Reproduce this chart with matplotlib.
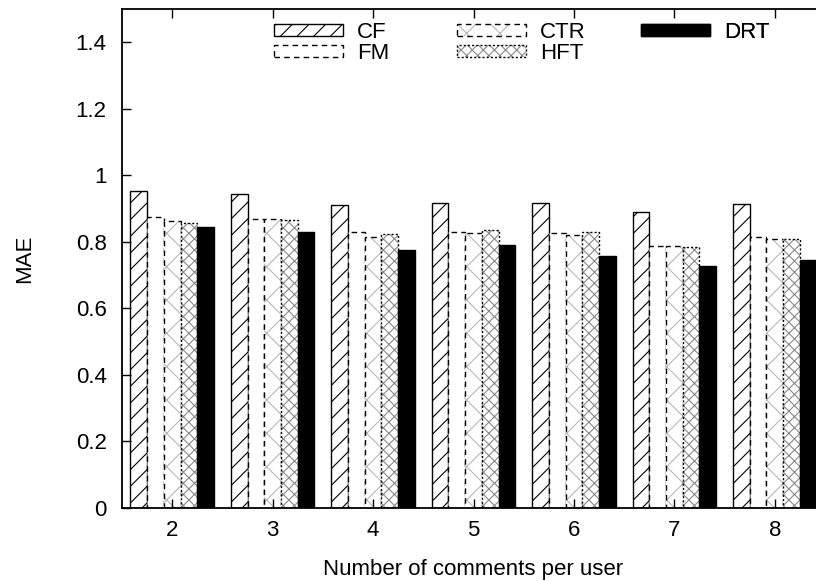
import matplotlib
matplotlib.use('Agg')
import matplotlib.pyplot as plt
import numpy as np
from matplotlib.patches import Patch

# MAE by number of comments per user
comments = [2, 3, 4, 5, 6, 7, 8]
cf = [0.952, 0.943, 0.912, 0.917, 0.917, 0.890, 0.914]
fm = [0.875, 0.870, 0.830, 0.831, 0.827, 0.789, 0.816]
ctr = [0.862, 0.869, 0.815, 0.828, 0.820, 0.788, 0.809]
hft = [0.856, 0.866, 0.825, 0.837, 0.831, 0.785, 0.809]
drt = [0.844, 0.830, 0.775, 0.790, 0.759, 0.726, 0.745]
methods = ['CF', 'FM', 'CTR', 'HFT', 'DRT']
yticks = [0, 0.2, 0.4, 0.6, 0.8, 1.0, 1.2, 1.4]
ytick_labels = ['0', '0.2', '0.4', '0.6', '0.8', '1', '1.2', '1.4']

plt.rcParams['font.family'] = ['Liberation Sans', 'DejaVu Sans']
plt.rcParams['font.size'] = 16
plt.rcParams['hatch.linewidth'] = 0.8

# face, hatch, hatch colour, edge linestyle
styles = {
    'CF': ('white', '//', 'black', '-'),
    'FM': ('white', None, None, (0, (4, 3))),
    'CTR': ('white', 'x', '#b8b8b8', (0, (4, 3))),
    'HFT': ('white', 'xxx', '#8a8a8a', (0, (1.5, 1.5))),
    'DRT': ('black', None, None, '-'),
}

fig = plt.figure(figsize=(8.16, 5.81), dpi=100)
ax = fig.add_axes([122 / 816, 73 / 581, 703 / 816, 499 / 581])

x = np.array(comments)
w = 1 / 6
handles = {}
for i, (name, vals) in enumerate(zip(methods, [cf, fm, ctr, hft, drt])):
    face, hatch, hcol, ls = styles[name]
    pos = x + (i - 2) * w
    parts = []
    if hatch:
        ax.bar(pos, vals, w, color='white', edgecolor=hcol, hatch=hatch, linewidth=0)
        parts.append(Patch(facecolor='white', edgecolor=hcol, hatch=hatch, linewidth=0))
    ax.bar(pos, vals, w, facecolor=face if not hatch else 'none',
           edgecolor='black', linewidth=1.0, linestyle=ls)
    parts.append(Patch(facecolor=face if not hatch else 'none', edgecolor='black',
                       linewidth=1.0, linestyle=ls))
    handles[name] = tuple(parts)

ax.set_xlim(1.5, 8.5)
ax.set_ylim(0, 1.5)
ax.set_xticks(comments)
ax.set_yticks(yticks)
ax.set_yticklabels(ytick_labels)
ax.tick_params(direction='in', length=6.5, width=1, top=True, right=True)
ax.tick_params(axis='x', pad=8.5)
ax.tick_params(axis='y', pad=11)
for s in ax.spines.values():
    s.set_linewidth(1.3)

ax.set_xlabel('Number of comments per user', va='center')
ax.xaxis.set_label_coords(0.5, (508 - 570) / 499)
ax.set_ylabel('MAE', va='center')
ax.yaxis.set_label_coords((25 - 122) / 703, 0.5)

# three legend columns, placed like the gnuplot key
columns = [(['CF', 'FM'], 274), (['CTR', 'HFT'], 457), (['DRT'], 641)]
for names, xpx in columns:
    leg = ax.legend([handles[n] for n in names], names, loc='upper left',
                    bbox_to_anchor=(xpx / 816, 559 / 581), bbox_transform=fig.transFigure,
                    frameon=False, borderpad=0, borderaxespad=0,
                    handlelength=3.1, handleheight=0.5, handletextpad=0.65,
                    labelspacing=0)
    ax.add_artist(leg)

fig.savefig('out.png', dpi=100)
